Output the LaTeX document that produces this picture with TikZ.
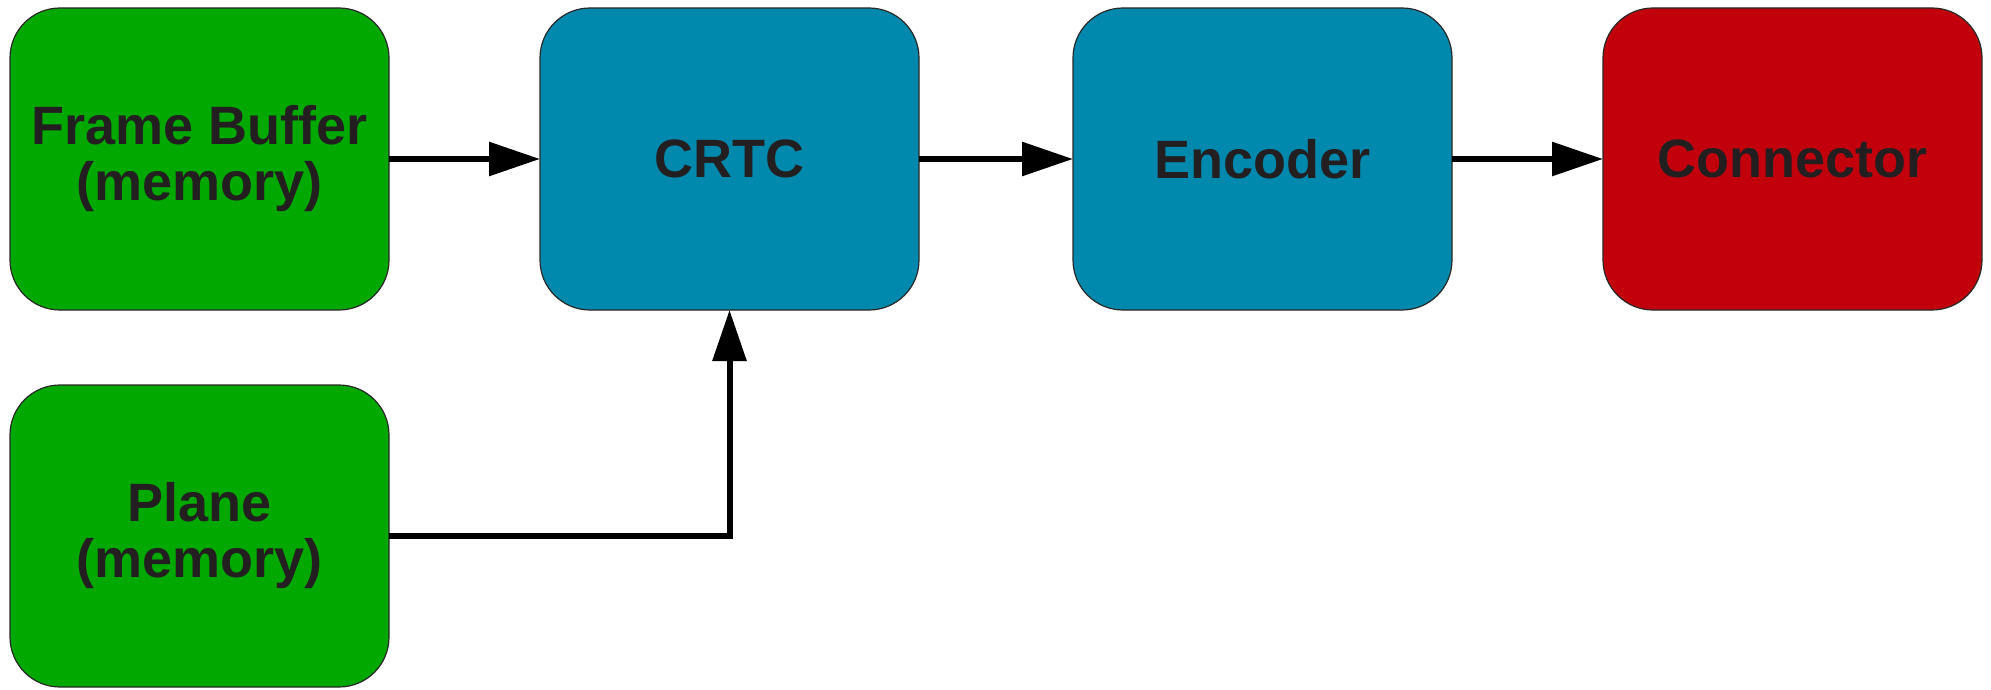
\documentclass[tikz,border=0pt]{standalone}
\usepackage{fontspec}
\setmainfont{Liberation Sans}
\usetikzlibrary{arrows.meta}
\definecolor{boxgreen}{RGB}{0,168,0}
\definecolor{boxblue}{RGB}{0,137,173}
\definecolor{boxred}{RGB}{194,0,11}
\definecolor{txt}{RGB}{35,31,32}
\definecolor{edge}{RGB}{40,40,40}
\tikzset{
  blk/.style={draw=edge, line width=1.2pt, rounded corners=50pt, minimum width=379pt, minimum height=302pt,
    inner sep=0pt, outer sep=0pt, align=center, text=txt,
    font=\fontsize{54}{56}\selectfont\bfseries},
  conn/.style={line width=6pt, -{Triangle[length=51pt,width=33pt]}}
}
\begin{document}
\begin{tikzpicture}[x=1pt,y=-1pt]
\useasboundingbox (0,0) rectangle (1991,690);
\node[blk, fill=boxgreen] (fb) at (199.5,159) {Frame Buffer\\(memory)};
\node[blk, fill=boxblue] (crtc) at (729.5,159) {CRTC};
\node[blk, fill=boxblue] (enc) at (1262.5,159) {Encoder};
\node[blk, fill=boxred] (con) at (1792.5,159) {Connector};
\node[blk, fill=boxgreen] (pl) at (199.5,536) {Plane\\(memory)};
\draw[conn] (fb) -- (crtc);
\draw[conn] (crtc) -- (enc);
\draw[conn] (enc) -- (con);
\draw[conn] (pl.east) -| (crtc.south);
\end{tikzpicture}
\end{document}
